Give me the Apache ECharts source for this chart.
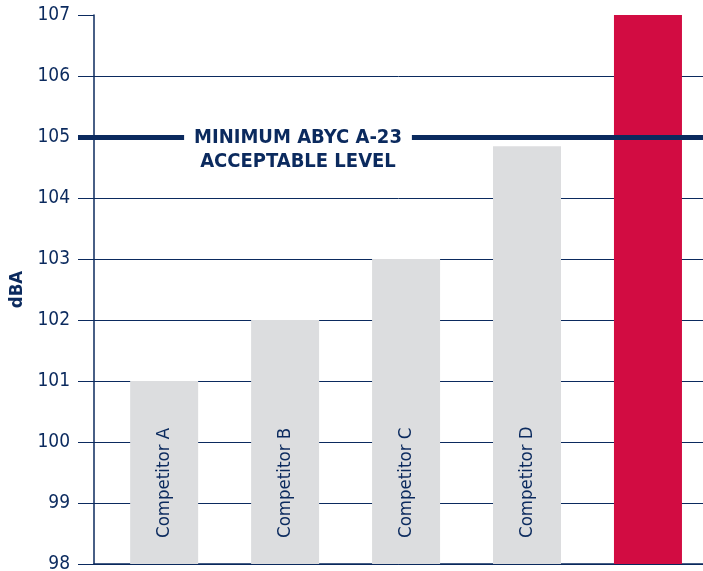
<!DOCTYPE html>
<html>
<head>
<meta charset="utf-8">
<script src="https://cdn.jsdelivr.net/npm/echarts@6/dist/echarts.min.js"></script>
<style>
  html, body { margin: 0; padding: 0; background: #fff; }
  #chart { width: 703px; height: 571px; }
</style>
</head>
<body>
<div id="chart"></div>
<script>
// chart values
const categories = ['Competitor A', 'Competitor B', 'Competitor C', 'Competitor D', '']
const dbaValues = [101, 102, 103, 104.85, 107]
const minLevel = 105
const minLevelText = 'MINIMUM ABYC A-23\nACCEPTABLE LEVEL'

const navy = '#0b2a5e'
const font = 'DejaVu Sans Condensed, sans-serif'

// x is a plain index axis; the bars don't sit evenly inside the plot in the original
const xMin = -0.58
const xMax = 4.455

const chart = echarts.init(document.getElementById('chart'))

// split lines, top one (107) left out
const splitColors = [navy, navy, navy, navy, navy, navy, navy, navy, navy, 'rgba(0,0,0,0)']

const option = {
  backgroundColor: '#ffffff',
  animation: false,
  grid: { left: 94, right: 0, top: 15, bottom: 7, containLabel: false, outerBoundsMode: 'none' },
  xAxis: {
    type: 'value',
    min: xMin,
    max: xMax,
    axisLine: { show: true, onZero: false, lineStyle: { color: navy, width: 1.5 } },
    axisTick: { show: false },
    axisLabel: { show: false },
    splitLine: { show: false }
  },
  yAxis: {
    type: 'value',
    min: 98,
    max: 107,
    interval: 1,
    name: 'dBA',
    nameLocation: 'middle',
    nameRotate: 90,
    nameGap: 66,
    nameTextStyle: { color: navy, fontFamily: font, fontWeight: 'bold', fontSize: 18.5 },
    axisLine: { show: true, onZero: false, lineStyle: { color: navy, width: 1.5 } },
    axisTick: { show: true, length: 16, lineStyle: { color: navy, width: 1 } },
    axisLabel: { color: navy, fontFamily: font, fontSize: 19, margin: 24 },
    splitLine: { show: true, lineStyle: { color: splitColors, width: 1 } }
  },
  series: [{
    type: 'bar',
    barWidth: 68,
    data: dbaValues.map((v, i) => ({
      name: categories[i],
      value: [i, v],
      itemStyle: { color: i === dbaValues.length - 1 ? '#d20c42' : '#dcdddf' }
    })),
    label: {
      show: true,
      position: 'insideBottom',
      rotate: 90,
      align: 'left',
      verticalAlign: 'middle',
      distance: 26,
      color: navy,
      fontFamily: font,
      fontSize: 18.5,
      formatter: p => p.name
    },
    markLine: {
      silent: true,
      symbol: 'none',
      lineStyle: { color: navy, width: 5, type: 'solid' },
      label: {
        show: true,
        position: 'insideStart',
        formatter: minLevelText,
        color: navy,
        fontFamily: font,
        fontWeight: 'bold',
        fontSize: 20,
        lineHeight: 24,
        align: 'center',
        backgroundColor: '#ffffff',
        padding: [0, 10, 0, 10],
        offset: [215, 13]
      },
      // starts left of the axis, over the tick
      data: [[{ yAxis: minLevel, x: 78 }, { yAxis: minLevel, x: 703 }]]
    }
  }]
}

chart.setOption(option)
</script>
</body>
</html>
